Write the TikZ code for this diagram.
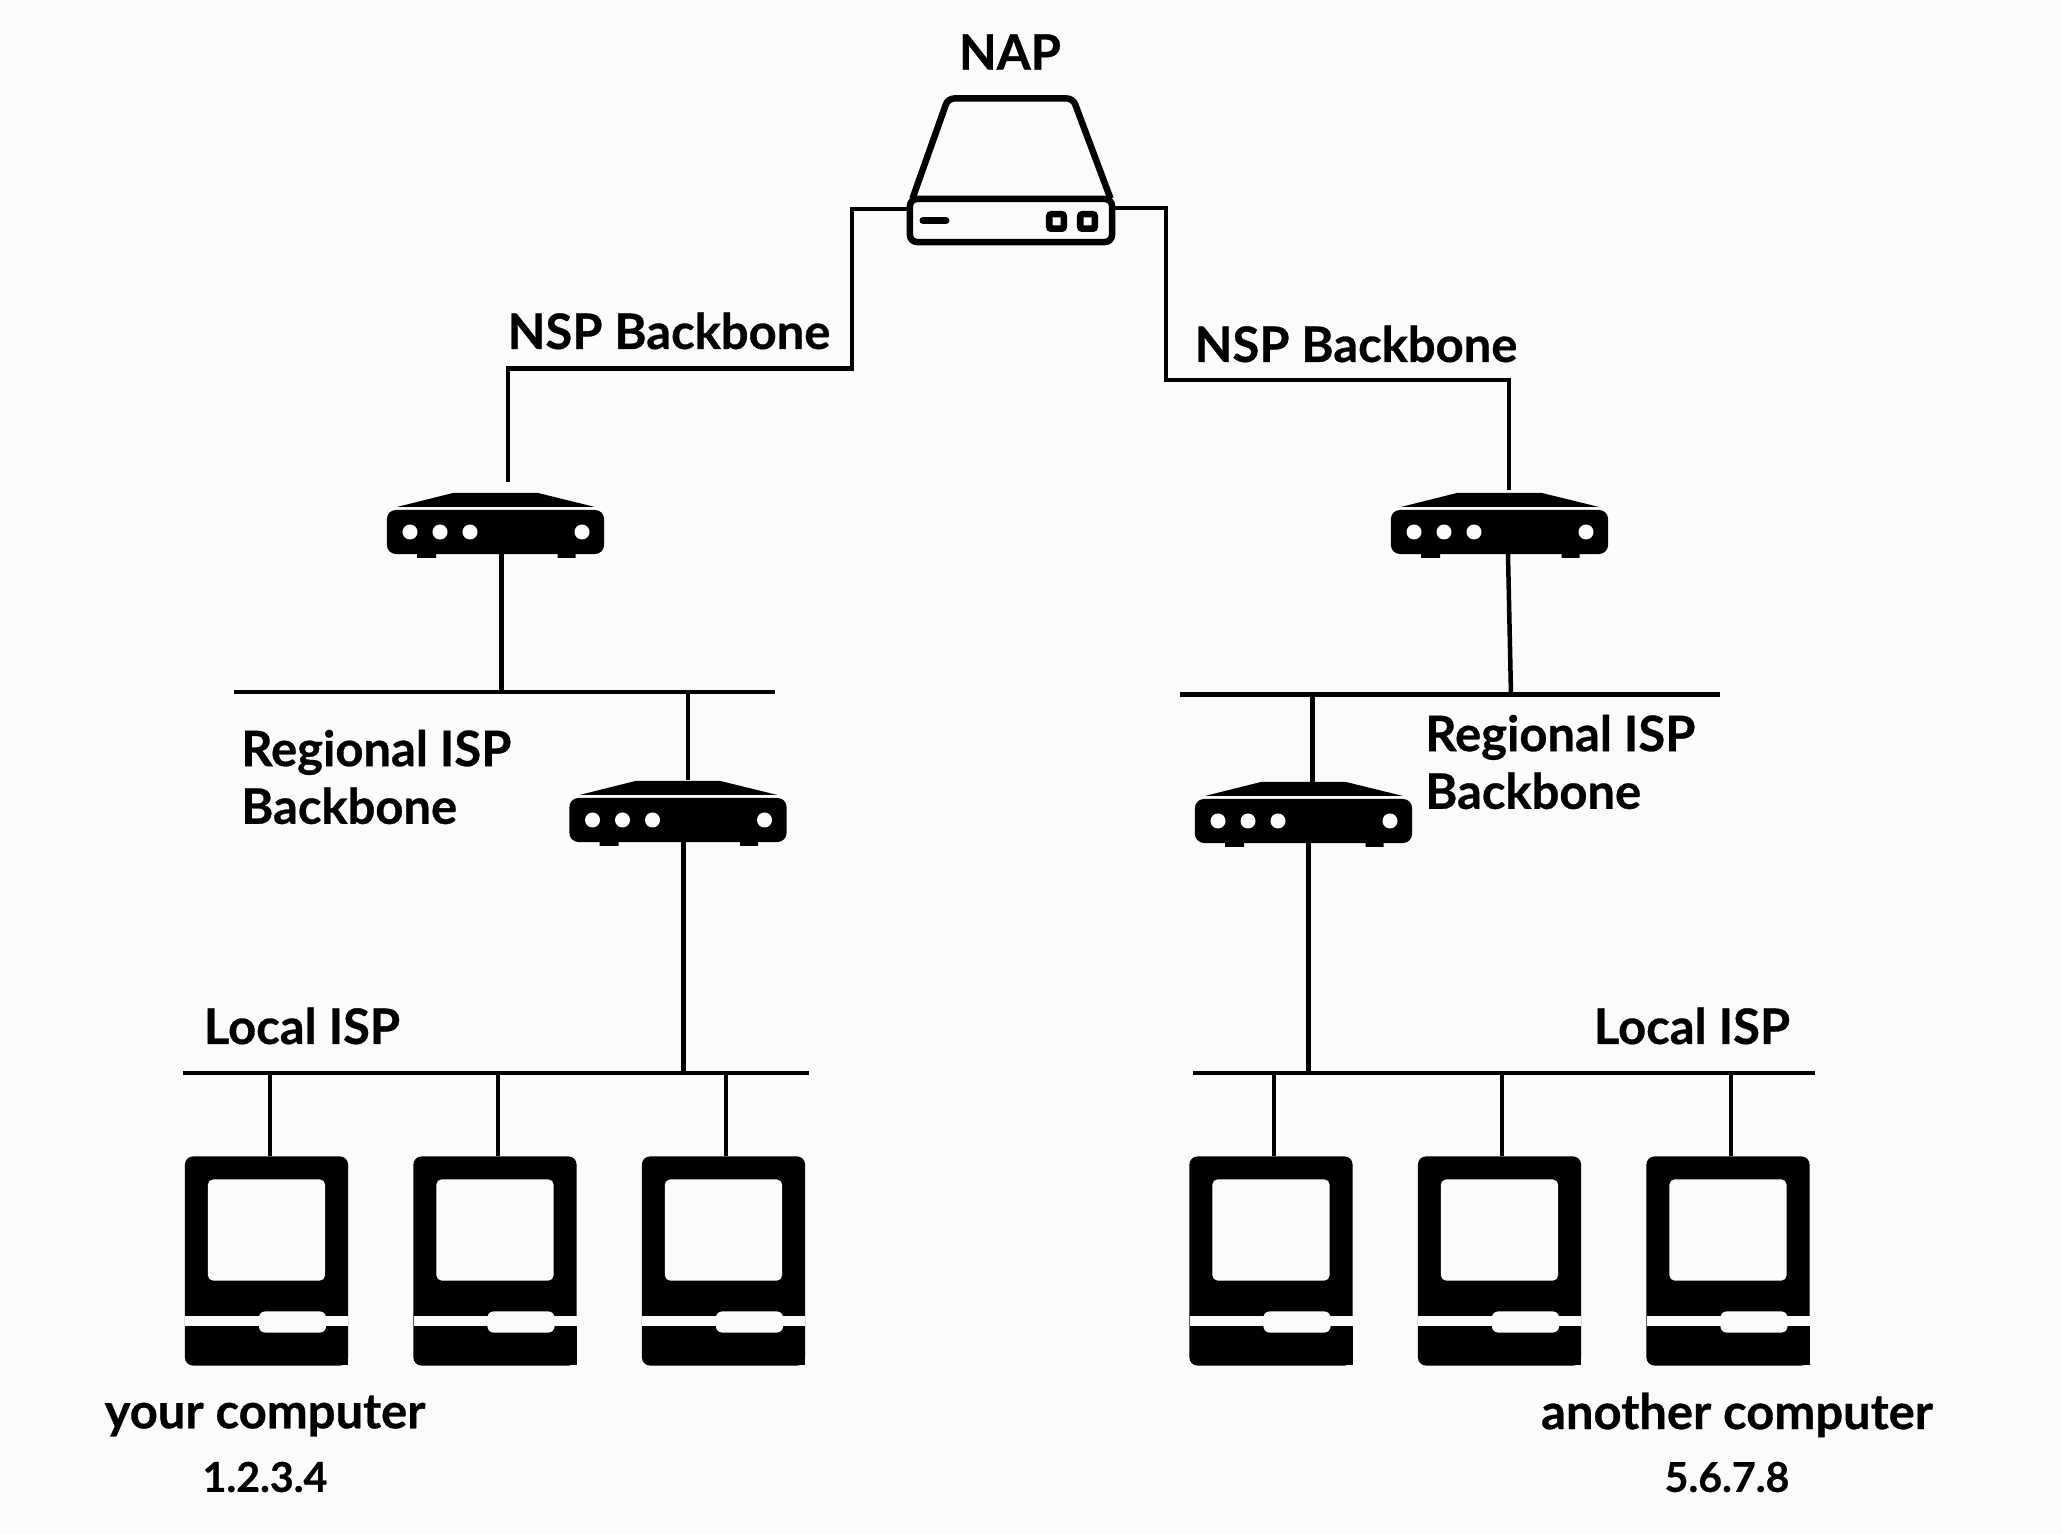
\documentclass[tikz,border=0pt]{standalone}
\usepackage{fontspec}
\setmainfont{Lato}[BoldFeatures={FakeBold=0.6}]
\definecolor{paper}{HTML}{FBFBFB}
\tikzset{
  hub/.pic={
    \draw[line width=0.65mm,line join=round,rounded corners=0.6mm] (-98.5,-22) -- (-63,-122) -- (62,-122) -- (99.5,-22);
    \node[draw,line width=0.65mm,outer sep=0pt,rounded corners=0.7mm,minimum width=2.02cm,minimum height=0.43cm,inner sep=0pt] (-body) at (0,0) {};
    \draw[line width=0.7mm,line cap=round] (-88,0) -- (-65,0);
    \node[draw,line width=0.65mm,rounded corners=0.2mm,minimum size=0.145cm,inner sep=0pt] (-ledA) at (45.5,1) {};
    \node[draw,line width=0.65mm,rounded corners=0.2mm,minimum size=0.145cm,inner sep=0pt] (-ledB) at (76.5,1) {};
  },
  router/.pic={
    \fill (-98.5,-25) -- (-42.5,-39) -- (42.5,-39) -- (99.5,-25) -- cycle;
    \fill (-78.5,20) rectangle (-59.5,26) (62,20) rectangle (80,26);
    \node[fill=black,outer sep=0pt,rounded corners=0.9mm,minimum width=2.17cm,minimum height=0.44cm,inner sep=0pt] (-body) at (0,0) {};
    \foreach \holeX in {-85.5,-55.5,-25.5,86.5}
      \fill[paper] (\holeX,0) circle (0.75mm);
  },
  computer/.pic={
    \node[fill=black,outer sep=0pt,rounded corners=0.8mm,minimum width=1.63cm,minimum height=2.09cm,inner sep=0pt] (-body) at (0,0) {};
    \fill (40,60) rectangle (81.5,104.5);
    \fill[paper] (-81.5,55.5) rectangle (81.5,65.5);
    \node[fill=paper,rounded corners=0.5mm,minimum width=1.17cm,minimum height=1.01cm,inner sep=0pt] (-screen) at (0,-31) {};
    \node[fill=paper,rounded corners=0.6mm,minimum width=0.67cm,minimum height=0.21cm,inner sep=0pt] (-slot) at (26,61) {};
  },
  lab/.style={font=\fontsize{13.9}{16.4}\selectfont\bfseries,align=left,inner sep=0pt},
  num/.style={font=\fontsize{11.7}{15}\selectfont\bfseries,inner sep=0pt}
}

\begin{document}
\begin{tikzpicture}[x=0.01cm,y=-0.01cm,line width=0.45mm]
  \fill[paper] (0,0) rectangle (2062,1534);
  \useasboundingbox (0,0) rectangle (2062,1534);

  \pic (nap) at (1011,220.5) {hub};
  \pic (rtLa) at (495.5,532) {router};
  \pic (rtRa) at (1499.5,532) {router};
  \pic (rtLb) at (678,820) {router};
  \pic (rtRb) at (1303.5,821) {router};

  \pic (pcLa) at (266.5,1261) {computer};
  \pic (pcLb) at (495,1261) {computer};
  \pic (pcLc) at (723.5,1261) {computer};
  \pic (pcRa) at (1271,1261) {computer};
  \pic (pcRb) at (1499.5,1261) {computer};
  \pic (pcRc) at (1728,1261) {computer};

  % bus ends and elbows
  \coordinate (regLa) at (234,692);
  \coordinate (regLb) at (775,692);
  \coordinate (regRa) at (1180,694.5);
  \coordinate (regRb) at (1720,694.5);
  \coordinate (locLa) at (183,1073);
  \coordinate (locLb) at (809,1073);
  \coordinate (locRa) at (1193,1073);
  \coordinate (locRb) at (1815,1073);
  \coordinate (endL) at (508,482);
  \coordinate (endR) at (1509,490);

  \draw (nap-body.west |- 0,209) -- (852,209) -- (852,368.5) -- (508,368.5) -- (endL);
  \draw (nap-body.east |- 0,208) -- (1166,208) -- (1166,380) -- (1509,380) -- (endR);

  \path (regLa) edge (regLb)
  (regRa) edge (regRb)
  (locLa) edge (locLb)
  (locRa) edge (locRb)
  (rtLa-body.south -| 501.5,0) edge (501.5,692)
  (688,692) edge (688,780)
  (rtLb-body.south -| 683.5,0) edge (683.5,1073)
  (rtRa-body.south -| 1508,0) edge (1511,694.5)
  (1312.5,694.5) edge (1312.5,782)
  (rtRb-body.south -| 1308.5,0) edge (1308.5,1073)
  (270,1073) edge (pcLa-body.north -| 270,0)
  (498,1073) edge (pcLb-body.north -| 498,0)
  (726,1073) edge (pcLc-body.north -| 726,0)
  (1274,1073) edge (pcRa-body.north -| 1274,0)
  (1502,1073) edge (pcRb-body.north -| 1502,0)
  (1731,1073) edge (pcRc-body.north -| 1731,0)
  ;

  \node[lab] (napLab) at (1010,52) {NAP};
  \node[lab] (nspL) at (669,331) {NSP Backbone};
  \node[lab] (nspR) at (1356,344) {NSP Backbone};
  \node[lab,anchor=west] (regL) at (239,777) {Regional ISP\\Backbone};
  \node[lab,anchor=west] (regR) at (1423,762) {Regional ISP\\Backbone};
  \node[lab] (locL) at (302,1026) {Local ISP};
  \node[lab] (locR) at (1692,1026) {Local ISP};
  \node[lab] (youPc) at (265,1416) {your computer};
  \node[lab] (otherPc) at (1737,1415) {another computer};
  \node[num] (ipL) at (265,1477) {1.2.3.4};
  \node[num] (ipR) at (1727,1477) {5.6.7.8};
\end{tikzpicture}
\end{document}
